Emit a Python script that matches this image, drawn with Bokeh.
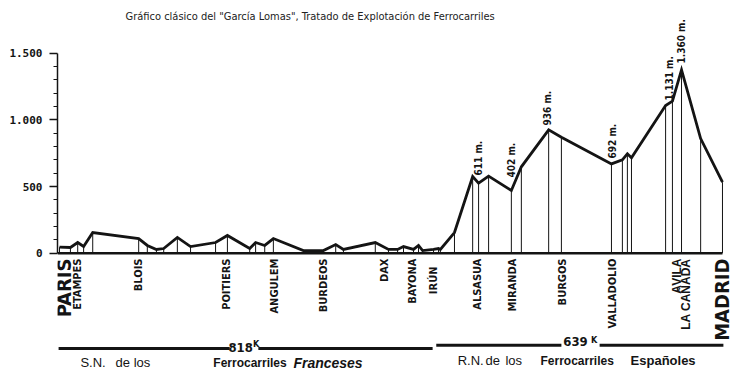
import numpy as np
from bokeh.plotting import figure
from bokeh.models import Range1d, FixedTicker
from bokeh.core.properties import value
from bokeh.embed import file_html
from bokeh.resources import INLINE

# ---------------- data ----------------
# railway profile Paris - Madrid: distance from Paris (km) and altitude (m)
profile_km = [0, 24, 40, 53, 73, 174, 193, 213, 229, 259, 288, 343, 369, 418, 431, 451,
              470, 536, 580, 607, 624, 694, 723, 743, 756, 778, 789, 798, 822, 833, 837,
              868, 908, 921, 943, 993, 1015, 1075, 1103, 1213, 1237, 1248, 1257, 1332,
              1347, 1367, 1409, 1457]
profile_alt = [45, 43, 80, 50, 155, 110, 58, 28, 35, 118, 50, 80, 133, 35, 80, 58,
               110, 20, 20, 65, 28, 80, 28, 28, 50, 28, 58, 20, 28, 35, 28,
               155, 575, 525, 578, 470, 648, 925, 870, 670, 700, 745, 715, 1108,
               1140, 1375, 860, 533]

# stations (label positions along the line, km)
small_stations = ["ETAMPES", "BLOIS", "POITIERS", "ANGULEM", "BURDEOS", "DAX", "BAYONA",
                  "ALSASUA", "MIRANDA", "BURGOS", "VALLADOLIO"]
small_station_km = [40, 174, 367, 472, 580, 714, 776, 919, 995, 1105, 1215]
irun_name = ["IRÚN"]
irun_km = [822]
big_stations = ["PARIS", "MADRID"]
big_station_km = [9, 1455]
wide_stations = ["AVILA", "LA CAÑADA"]
wide_station_km = [1358, 1377]

# altitude notes
note_text = ["611 m.", "402 m.", "936 m.", "692 m.", "1.131 m.", "1.360 m."]
note_km = [921, 993, 1072, 1215, 1340, 1367]
note_alt = [583, 568, 958, 710, 1145, 1423]

# distances of each network
net_km = ["818", "639"]
y_ticks = [0, 500, 1000, 1500]
y_tick_labels = {0: "0", 500: "500", 1000: "1.000", 1500: "1.500"}
y_minor = [100, 200, 300, 400, 600, 700, 800, 900, 1100, 1200, 1300, 1400]

title_text = 'Gráfico clásico del "García Lomas", Tratado de Explotación de Ferrocarriles'

INK = "#141414"
NARROW = value("DejaVu Sans Condensed, Roboto")
SANS = value("Liberation Sans")

# ---------------- figure ----------------
p = figure(width=738, height=378, output_backend="svg", toolbar_location=None,
           x_range=Range1d(-4.4, 1492.2), y_range=Range1d(-939.75, 1895.25),
           x_axis_location=None, y_axis_location="left",
           min_border_left=57, min_border_right=0, min_border_top=0, min_border_bottom=0)
p.grid.visible = False
p.outline_line_color = None
p.background_fill_color = "white"
p.border_fill_color = "white"

ax = p.yaxis[0]
ax.ticker = FixedTicker(ticks=y_ticks, minor_ticks=y_minor)
ax.major_label_overrides = y_tick_labels
ax.bounds = (0, 1500)
ax.axis_line_color = INK
ax.axis_line_width = 1.5
ax.major_tick_line_color = INK
ax.major_tick_line_width = 1.5
ax.major_tick_out = 8
ax.major_tick_in = 0
ax.minor_tick_line_color = INK
ax.minor_tick_out = 4
ax.minor_tick_in = 0
ax.major_label_standoff = 7
ax.major_label_text_font = "DejaVu Sans Mono"
ax.major_label_text_font_style = "bold"
ax.major_label_text_font_size = "11px"
ax.major_label_text_color = INK

# vertical station lines
p.segment(x0=profile_km, y0=[0] * len(profile_km), x1=profile_km, y1=profile_alt,
          line_color=INK, line_width=1)
# baseline
p.line(x=[profile_km[0] - 4, profile_km[-1]], y=[0, 0], line_color=INK, line_width=2.5)
# profile
p.line(x=profile_km, y=profile_alt, line_color=INK, line_width=2.8, line_join="miter")

# station labels (vertical, reading upwards, top just below baseline)
p.text(x=small_station_km, y=[-40] * len(small_station_km), text=small_stations,
       angle=np.pi / 2, text_align="right", text_baseline="middle",
       text_font=NARROW, text_font_style="bold", text_font_size="11px", text_color=INK)
p.text(x=irun_km, y=[-100], text=irun_name,
       angle=np.pi / 2, text_align="right", text_baseline="middle",
       text_font=NARROW, text_font_style="bold", text_font_size="11px", text_color=INK)
p.text(x=big_station_km, y=[-40, -40], text=big_stations,
       angle=np.pi / 2, text_align="right", text_baseline="middle",
       text_font=NARROW, text_font_style="bold", text_font_size="20px", text_color=INK)
p.text(x=wide_station_km, y=[-40, -40], text=wide_stations,
       angle=np.pi / 2, text_align="right", text_baseline="middle",
       text_font=SANS, text_font_style="bold", text_font_size="12px", text_color=INK)

# altitude notes
p.text(x=note_km, y=note_alt, text=note_text, angle=np.pi / 2,
       text_align="left", text_baseline="middle",
       text_font=NARROW, text_font_style="bold", text_font_size="10px", text_color=INK)

# network distance rules
p.segment(x0=[-2, 437, 828, 1187], y0=[-715, -715, -690, -690],
          x1=[374, 820, 1103, 1459], y1=[-715, -715, -690, -690],
          line_color=INK, line_width=3)
p.text(x=[398, 1134], y=[-707, -662], text=net_km, text_align="center",
       text_baseline="middle", text_font=NARROW, text_font_style="bold",
       text_font_size="13px", text_color=INK)
p.text(x=[425, 1168], y=[-680, -648], text=["K", "K"], text_align="left",
       text_baseline="middle", text_font=NARROW, text_font_style="bold",
       text_font_size="9px", text_color=INK)

# network names
p.text(x=[46, 875], y=[-820, -805], text=["S.N.", "R.N."],
       text_align="left", text_baseline="middle", text_font=SANS,
       text_font_size="13px", text_color=INK)
p.text(x=[123, 936], y=[-820, -805], text=["de", "de"],
       text_align="left", text_baseline="middle", text_font=SANS,
       text_font_size="13px", text_color=INK)
p.text(x=[163, 980], y=[-820, -805], text=["los", "los"],
       text_align="left", text_baseline="middle", text_font=SANS,
       text_font_size="13px", text_color=INK)
p.text(x=[338, 1057], y=[-820, -805], text=["Ferrocarriles", "Ferrocarriles"],
       text_align="left", text_baseline="middle", text_font=SANS, text_font_style="bold",
       text_font_size="12px", text_color=INK)
p.text(x=[514], y=[-820], text=["Franceses"],
       text_align="left", text_baseline="middle", text_font=SANS,
       text_font_style="bold italic", text_font_size="14px", text_color=INK)
p.text(x=[1255], y=[-805], text=["Españoles"],
       text_align="left", text_baseline="middle", text_font=SANS, text_font_style="bold",
       text_font_size="13px", text_color=INK)

# title
p.text(x=[145], y=[1775], text=[title_text], text_align="left", text_baseline="middle",
       text_font=NARROW, text_font_size="11px", text_color="#222")

open("out.html", "w").write(file_html(p, INLINE))
